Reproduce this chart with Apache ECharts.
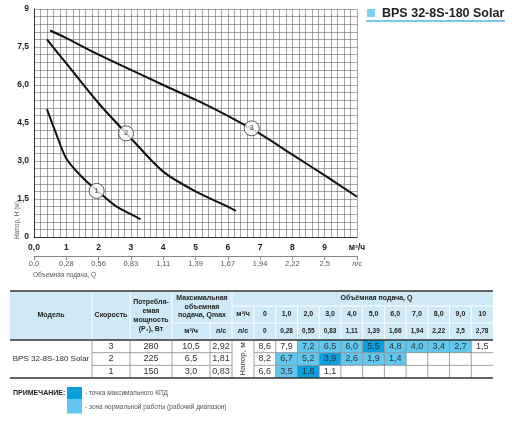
<!DOCTYPE html>
<html>
<head>
<meta charset="utf-8">
<script src="https://cdn.jsdelivr.net/npm/echarts@6/dist/echarts.min.js"></script>
<style>
html, body { margin: 0; padding: 0; background: #fff; }
#main { width: 512px; height: 424px; }
</style>
</head>
<body>
<div id="main"></div>
<script>
// кривые напора (Q м3/ч, H м)
var curve1 = [[0.4, 5.05], [0.65, 4.2], [1.0, 3.1], [1.5, 2.35], [2.0, 1.78], [2.5, 1.25], [3.0, 0.9], [3.3, 0.7]];
var curve2 = [[0.4, 7.8], [1.0, 6.85], [2.0, 5.28], [3.0, 3.9], [4.0, 2.58], [5.0, 1.8], [6.0, 1.2], [6.25, 1.03]];
var curve3 = [[0.5, 8.15], [1.0, 7.85], [2.0, 7.2], [3.0, 6.6], [4.0, 6.0], [5.0, 5.42], [6.0, 4.78], [7.0, 4.07], [8.0, 3.25], [9.0, 2.43], [10.0, 1.59]];
// номера скоростей на кривых
var curveMarks = [[1.94, 1.82, '1'], [2.85, 4.09, '2'], [6.74, 4.29, '3']];

// подписи осей
var lsAxisLabels = ['0,0', '0,28', '0,56', '0,83', '1,11', '1,39', '1,67', '1,94', '2,22', '2,5', 'л/с'];

// таблица
var modelName = 'BPS 32-8S-180 Solar';
var qM3h = ['0', '1,0', '2,0', '3,0', '4,0', '5,0', '6,0', '7,0', '8,0', '9,0', '10'];
var qLs = ['0', '0,28', '0,55', '0,83', '1,11', '1,39', '1,66', '1,94', '2,22', '2,5', '2,78'];
var speeds = ['3', '2', '1'];
var powers = ['280', '225', '150'];
var qmaxM3h = ['10,5', '6,5', '3,0'];
var qmaxLs = ['2,92', '1,81', '0,83'];
var headRows = [
    ['8,6', '7,9', '7,2', '6,5', '6,0', '5,5', '4,8', '4,0', '3,4', '2,7', '1,5'],
    ['8,2', '6,7', '5,2', '3,9', '2,6', '1,9', '1,4'],
    ['6,6', '3,5', '1,6', '1,1']
];
// 0 - обычная, 1 - рабочий диапазон, 2 - максимальный КПД
var zoneRows = [
    [0, 0, 1, 1, 1, 2, 1, 1, 1, 1, 0],
    [0, 1, 1, 2, 1, 1, 1],
    [0, 1, 2, 0]
];

var FONT = '"Liberation Sans", Arial, sans-serif';
var HDR = '#cfe9f7';
var ZONE = ['#ffffff', '#62c7ef', '#0a9fde'];

var myChart = echarts.init(document.getElementById('main'));

function txt(x, y, s, o) {
    o = o || {};
    return {
        type: 'text', x: x, y: y, rotation: o.rotation || 0, silent: true,
        style: {
            text: s,
            fontSize: o.size || 8,
            fontWeight: o.bold ? 'bold' : 'normal',
            fontFamily: FONT,
            fill: o.color || '#222',
            align: o.align || 'center', textAlign: o.align || 'center',
            verticalAlign: 'middle', textVerticalAlign: 'middle',
            lineHeight: o.lh || null
        }
    };
}
function rect(x, y, w, h, fill) {
    return { type: 'rect', silent: true, shape: { x: x, y: y, width: w, height: h }, style: { fill: fill } };
}
function line(x1, y1, x2, y2, stroke, w) {
    return { type: 'line', silent: true, shape: { x1: x1, y1: y1, x2: x2, y2: y2 }, style: { stroke: stroke, lineWidth: w } };
}

// ---- таблица ----
var g = [];
var left = 10, right = 493;
var qStart = 254, qW = (right - qStart) / 11;
var yTop = 291, yH1 = 306, yH2 = 323, yData = 340, rowH = 38 / 3, yBot = 378;

g.push(rect(left, yTop, right - left, yData - yTop, HDR));

// заливка ячеек
zoneRows.forEach(function (row, r) {
    row.forEach(function (z, c) {
        if (z > 0) g.push(rect(qStart + c * qW, yData + r * rowH, qW, rowH, ZONE[z]));
    });
});

// белые линии шапки
[92, 130, 172, 232].forEach(function (x) { g.push(line(x, yTop, x, yData, '#fff', 1)); });
g.push(line(210, yH2, 210, yData, '#fff', 1));
for (var i = 0; i < 11; i++) {
    var x = qStart + i * qW;
    g.push(line(x, yH1, x, yData, '#fff', 1));
}
g.push(line(232, yH1, right, yH1, '#fff', 1));
g.push(line(172, yH2, right, yH2, '#fff', 1));

// серые линии данных
for (var r = 1; r < 3; r++) {
    g.push(line(92, yData + r * rowH, 232, yData + r * rowH, '#8a8a8a', 0.8));
    g.push(line(qStart, yData + r * rowH, right, yData + r * rowH, '#8a8a8a', 0.8));
}
[92, 130, 172, 210, 232].forEach(function (x) { g.push(line(x, yData, x, yBot, '#8a8a8a', 0.8)); });
for (var i = 0; i < 11; i++) {
    var x = qStart + i * qW;
    g.push(line(x, yData, x, yBot, '#8a8a8a', 0.8));
}

// тёмные линии
[yTop, yData, yBot].forEach(function (y) { g.push(line(left, y, right, y, '#333', 1.3)); });

// тексты шапки
var hb = { bold: true, size: 7 };
g.push(txt(51, 315.5, 'Модель', hb));
g.push(txt(111, 315.5, 'Скорость', hb));
g.push(txt(151, 315.5, 'Потребля-\nемая\nмощность\n(P₁), Вт', { bold: true, size: 7, lh: 9 }));
g.push(txt(202, 307, 'Максимальная\nобъемная\nподача, Qmax', { bold: true, size: 7, lh: 8.5 }));
g.push(txt(191, 331.5, 'м³/ч', hb));
g.push(txt(221, 331.5, 'л/с', hb));
g.push(txt(243, 314.5, 'м³/ч', hb));
g.push(txt(243, 331.5, 'л/с', hb));
g.push(txt(qStart + qW * 5.5 + 3, 298.5, 'Объёмная подача, Q', hb));
qM3h.forEach(function (s, i) { g.push(txt(qStart + (i + 0.5) * qW, 314.5, s, hb)); });
qLs.forEach(function (s, i) { g.push(txt(qStart + (i + 0.5) * qW, 331.5, s, { bold: true, size: 6.5 })); });

// данные
var dt = { size: 9, color: '#333' };
g.push(txt(51, yData + rowH * 1.5, modelName, { size: 8, color: '#333' }));
g.push(txt(243, yData + rowH * 1.5, 'Напор, м', { size: 8, color: '#333', rotation: Math.PI / 2 }));
speeds.forEach(function (s, r) {
    var y = yData + (r + 0.5) * rowH;
    g.push(txt(111, y, s, dt));
    g.push(txt(151, y, powers[r], dt));
    g.push(txt(191, y, qmaxM3h[r], dt));
    g.push(txt(221, y, qmaxLs[r], dt));
    headRows[r].forEach(function (v, c) {
        g.push(txt(qStart + (c + 0.5) * qW, y, v, dt));
    });
});

// примечание
g.push(txt(13, 393, 'ПРИМЕЧАНИЕ:', { bold: true, size: 7, align: 'left' }));
g.push(rect(67, 387, 15, 12, ZONE[2]));
g.push(rect(67, 399, 15, 14.5, ZONE[1]));
g.push(txt(85, 393, '- точка максимального КПД', { size: 6.5, color: '#555', align: 'left' }));
g.push(txt(85, 407, '- зона нормальной работы (рабочий диапазон)', { size: 6.5, color: '#555', align: 'left' }));

// заголовок
g.push(rect(367, 9, 8, 8, '#7fd0f1'));
g.push(txt(382, 13.5, 'BPS 32-8S-180 Solar', { bold: true, size: 12.5, color: '#222', align: 'left' }));
g.push(line(366, 21, 505, 21, '#4fb4e4', 1.5));

// подписи осей
g.push(txt(17, 220, 'Напор, H (м)', { size: 6.5, color: '#666', rotation: Math.PI / 2 }));
g.push(txt(33, 275, 'Объемная подача, Q', { size: 6.5, color: '#555', align: 'left' }));

var gridLine = { color: '#6a6a6a', width: 0.6 };
var curveStyle = { color: '#111', width: 2 };

var option = {
    animation: false,
    grid: { left: 34, right: 155, top: 9, bottom: 187 },
    xAxis: [
        {
            type: 'value', min: 0, max: 10, interval: 1,
            axisLine: { show: true, lineStyle: { color: '#333', width: 1 } },
            axisTick: { show: false },
            axisLabel: {
                margin: 6, fontSize: 8.5, fontWeight: 'bold', color: '#222', fontFamily: FONT,
                formatter: function (v) { return v === 0 ? '0,0' : (v === 10 ? 'м³/ч' : String(v)); }
            },
            minorTick: { show: false, splitNumber: 5 },
            splitLine: { show: true, lineStyle: gridLine },
            minorSplitLine: { show: true, lineStyle: gridLine }
        },
        {
            type: 'value', min: 0, max: 10, interval: 1, position: 'bottom', offset: 19,
            axisLine: { show: true, lineStyle: { color: '#888', width: 1 } },
            axisTick: { show: true, inside: false, length: 4, lineStyle: { color: '#888' } },
            axisLabel: {
                margin: 4, fontSize: 7.5, color: '#555', fontFamily: FONT,
                formatter: function (v) { return lsAxisLabels[Math.round(v)]; }
            },
            splitLine: { show: false }
        }
    ],
    yAxis: {
        type: 'value', min: 0, max: 9, interval: 1.5,
        axisLine: { show: true, lineStyle: { color: '#333', width: 1 } },
        axisTick: { show: false },
        axisLabel: {
            margin: 5, fontSize: 8.5, fontWeight: 'bold', color: '#222', fontFamily: FONT,
            formatter: function (v) { return (v === 0 || v === 9) ? String(v) : v.toFixed(1).replace('.', ','); }
        },
        minorTick: { show: false, splitNumber: 5 },
        splitLine: { show: true, lineStyle: gridLine },
        minorSplitLine: { show: true, lineStyle: gridLine }
    },
    series: [
        { type: 'line', data: curve1, smooth: 0.3, showSymbol: false, lineStyle: curveStyle, z: 3 },
        { type: 'line', data: curve2, smooth: 0.3, showSymbol: false, lineStyle: curveStyle, z: 3 },
        { type: 'line', data: curve3, smooth: 0.3, showSymbol: false, lineStyle: curveStyle, z: 3 },
        {
            type: 'scatter', data: curveMarks, symbol: 'circle', symbolSize: 15, z: 4,
            itemStyle: { color: '#fff', borderColor: '#333', borderWidth: 1 },
            label: {
                show: true, position: 'inside', fontSize: 7.5, color: '#222', fontFamily: FONT,
                formatter: function (p) { return p.value[2]; }
            }
        }
    ],
    graphic: g
};
myChart.setOption(option);
</script>
</body>
</html>
